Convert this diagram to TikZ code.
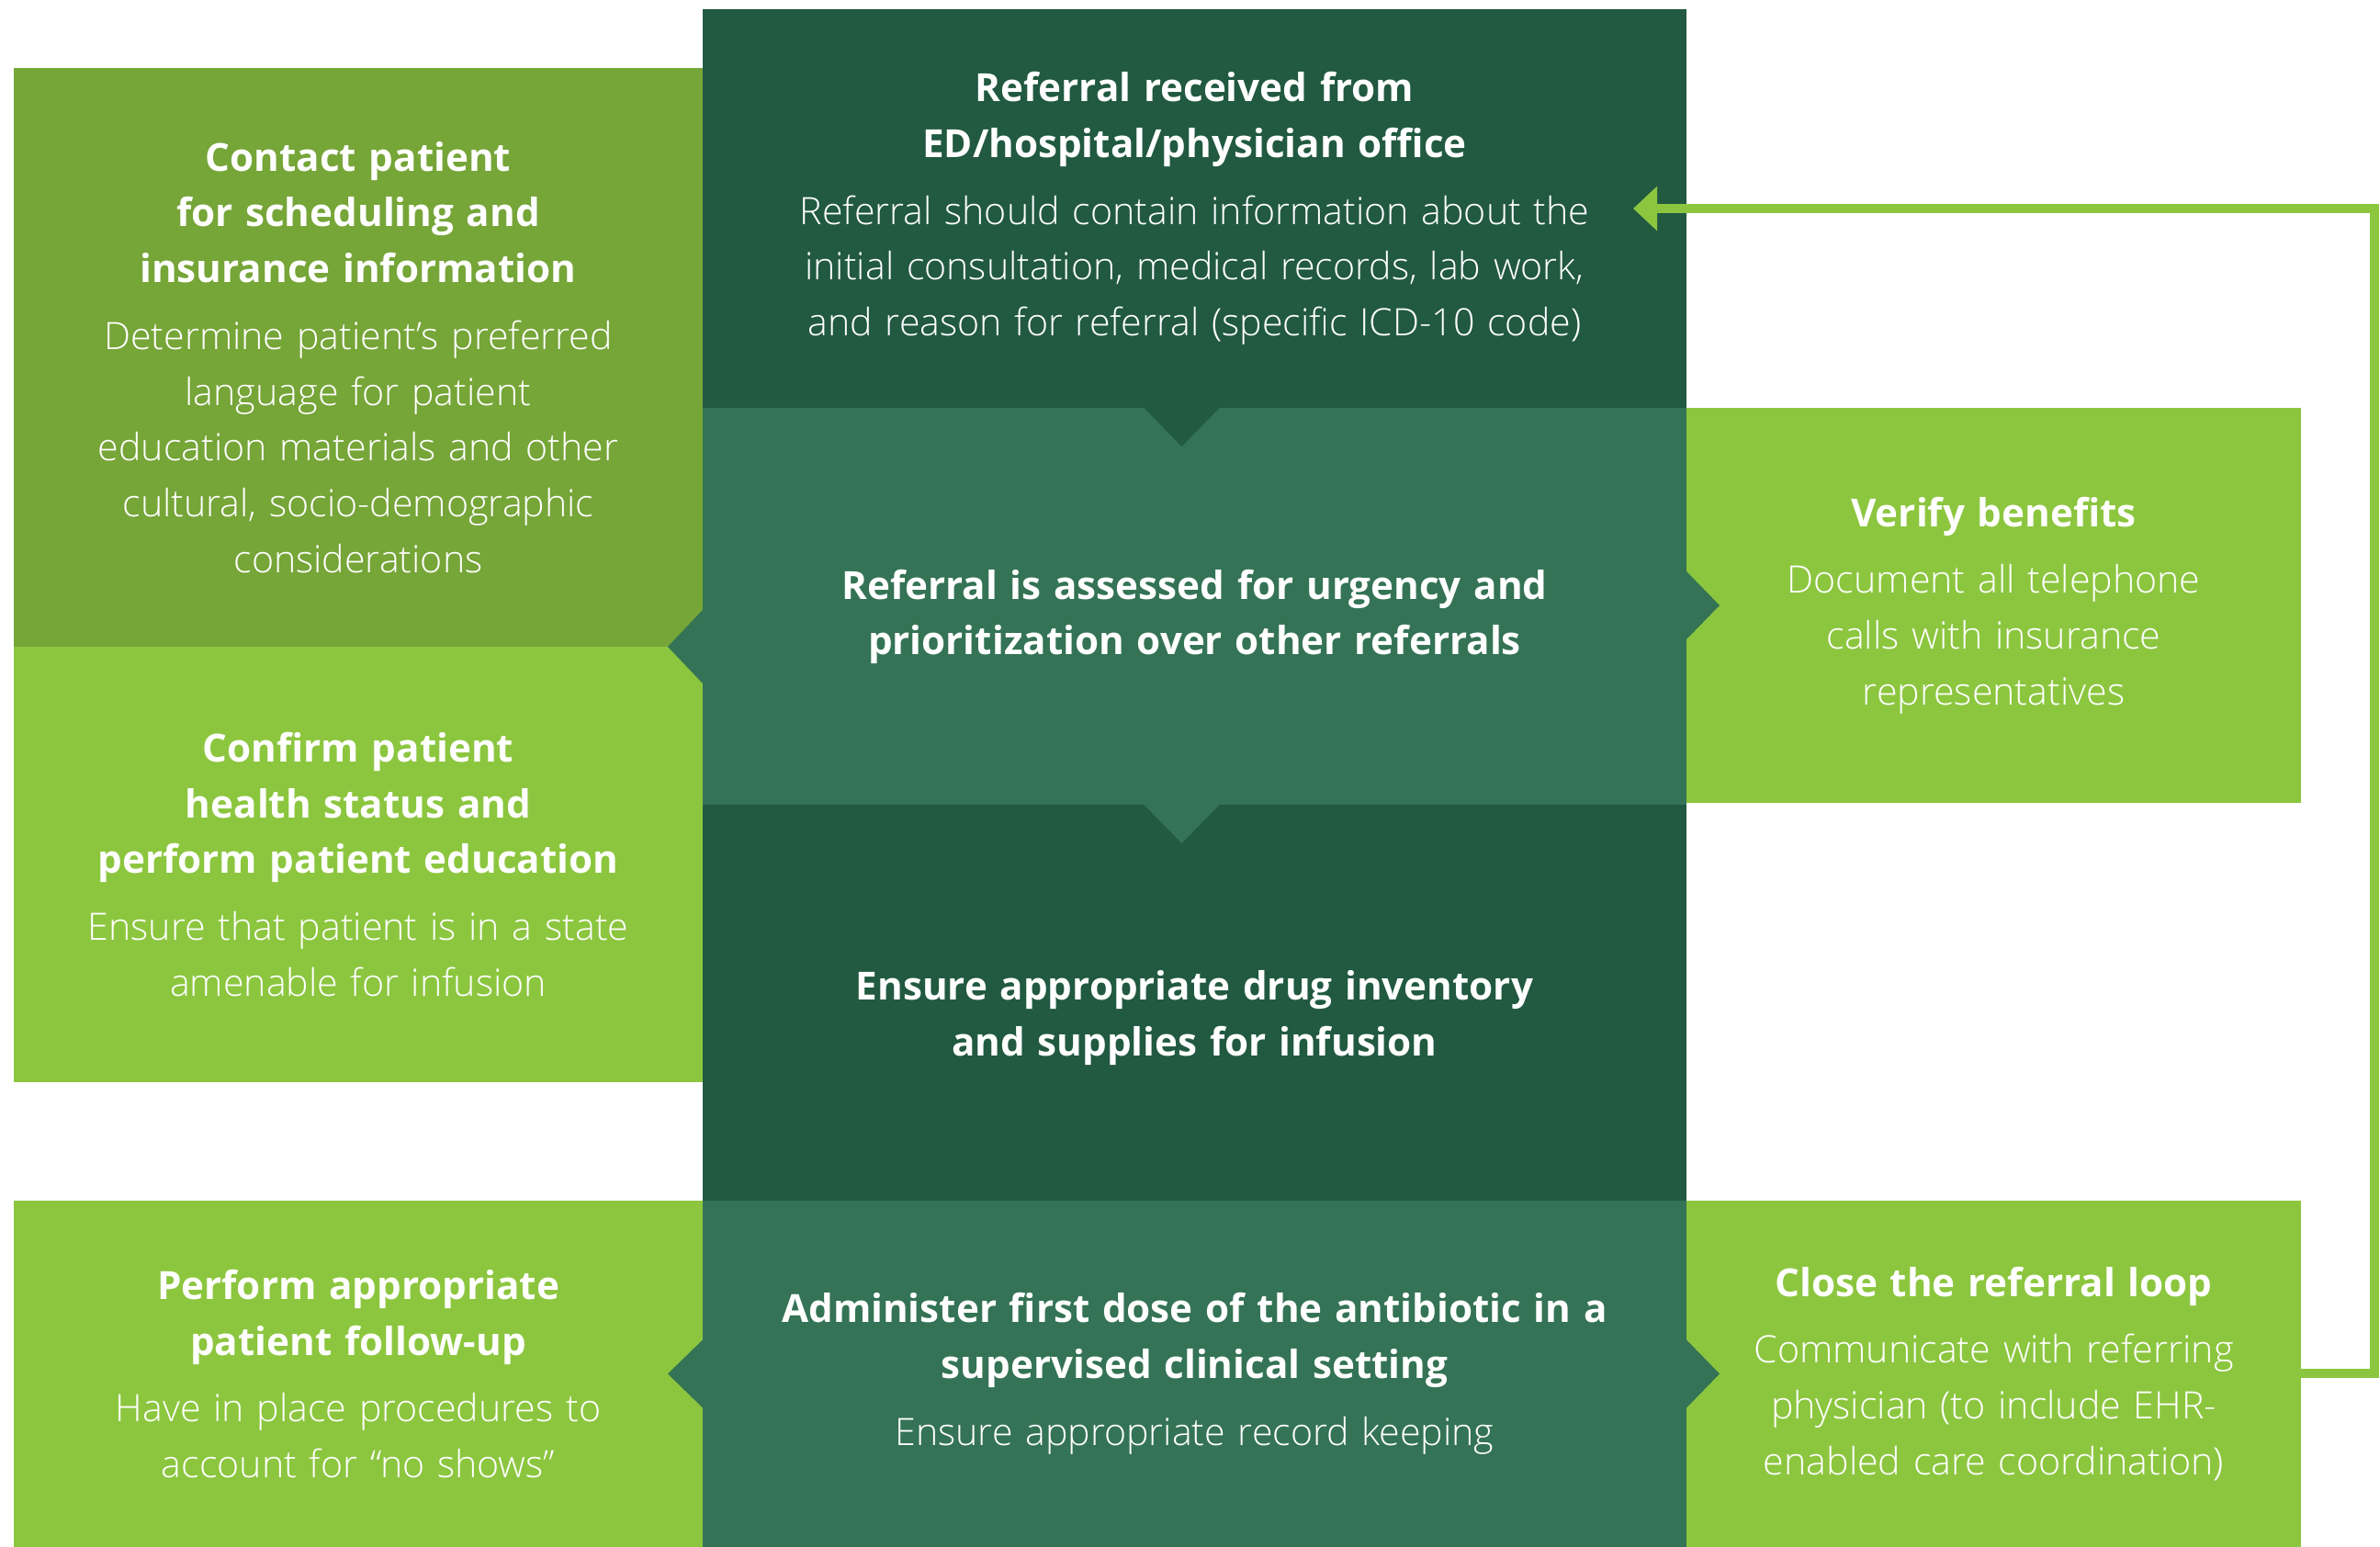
\documentclass[tikz,border=0pt]{standalone}
\usepackage{fontspec}
\setmainfont{Open Sans}
\IfFontExistsTF{Open Sans Light}
  {\newfontfamily\thinfont{Open Sans Light}}
  {\newcommand{\thinfont}{}}
\usepackage{tikz}
\usetikzlibrary{arrows.meta, positioning, calc}

\definecolor{pinegreen}{RGB}{33,89,65}
\definecolor{sagegreen}{RGB}{52,115,85}
\definecolor{olivegreen}{RGB}{118,165,56}
\definecolor{limegreen}{RGB}{140,198,63}

\newcommand{\headfont}{\fontsize{12}{17.3}\selectfont\rmfamily\bfseries}
\newcommand{\bodyfont}{\fontsize{11.7}{17.3}\selectfont\thinfont}

\begin{document}
\begin{tikzpicture}[
    node distance=0pt,
    mainbox/.style={rectangle, inner sep=0pt, outer sep=0pt, text=white,
                    align=center, font=\bodyfont},
    darkbox/.style={mainbox, fill=pinegreen, minimum width=10.71cm, text width=10.4cm},
    midbox/.style={mainbox, fill=sagegreen, minimum width=10.71cm, text width=10.4cm},
    leftbox/.style={mainbox, minimum width=7.5cm, text width=7.3cm},
    rightbox/.style={mainbox, fill=limegreen, minimum width=6.69cm, text width=6.5cm},
    looparrow/.style={-{Triangle[length=2.6mm, width=4.7mm]}, line width=1mm, limegreen}
]
\useasboundingbox (0,0) rectangle (25.91,-16.84);

% Central column
\node[darkbox, minimum height=4.34cm, anchor=north west] (received) at (7.65,-0.10)
    {{\headfont Referral received from\\ED/hospital/physician office}\\[3.4pt]Referral should contain information about the\\initial consultation, medical records, lab work,\\and reason for referral (specific ICD-10 code)};
\node[midbox, minimum height=4.32cm, below=of received] (assessed)
    {{\headfont\rule{0pt}{0.55cm}Referral is assessed for urgency and\\prioritization over other referrals}};
\node[darkbox, minimum height=4.31cm, below=of assessed] (inventory)
    {{\headfont\rule{0pt}{0.65cm}Ensure appropriate drug inventory\\and supplies for infusion}};
\node[midbox, minimum height=3.77cm, below=of inventory] (administer)
    {{\headfont Administer first dose of the antibiotic in a\\supervised clinical setting}\\[3.4pt]Ensure appropriate record keeping};

% Left column
\node[leftbox, fill=olivegreen, minimum height=6.30cm, anchor=north east] (contact) at ([yshift=-0.64cm]received.north west)
    {{\headfont Contact patient\\for scheduling and\\insurance information}\\[3.4pt]Determine patient’s preferred\\language for patient\\education materials and other\\cultural, socio-demographic\\considerations};
\node[leftbox, fill=limegreen, minimum height=4.74cm, below=of contact] (confirm)
    {{\headfont Confirm patient\\health status and\\perform patient education}\\[3.4pt]Ensure that patient is in a state\\amenable for infusion};
\node[leftbox, fill=limegreen, minimum height=3.77cm, anchor=north east] (followup) at (administer.north west)
    {{\headfont Perform appropriate\\patient follow-up}\\[3.4pt]Have in place procedures to\\account for “no shows”};

% Right column
\node[rightbox, minimum height=4.30cm, anchor=north west] (verify) at (assessed.north east)
    {{\headfont Verify benefits}\\[3.4pt]Document all telephone\\calls with insurance\\representatives};
\node[rightbox, minimum height=3.77cm, anchor=north west] (closeloop) at (administer.north east)
    {{\headfont Close the referral loop}\\[3.4pt]Communicate with referring\\physician (to include EHR-\\enabled care coordination)};

% Notches between rows
\fill[pinegreen] ([xshift=-5.5mm]received.south) -- ++(0.41,-0.42) -- ++(0.41,0.42) -- cycle;
\fill[sagegreen] ([xshift=-5.5mm]assessed.south) -- ++(0.41,-0.42) -- ++(0.41,0.42) -- cycle;

% Pointers into side boxes
\fill[sagegreen] ([yshift=4mm]contact.south east) -- ++(-0.38,-0.4) -- ++(0.38,-0.4) -- cycle;
\fill[sagegreen] ([yshift=3.7mm]verify.west) -- ++(0.36,-0.37) -- ++(-0.36,-0.37) -- cycle;
\fill[sagegreen] ([yshift=3.7mm]followup.east) -- ++(-0.38,-0.37) -- ++(0.38,-0.37) -- cycle;
\fill[sagegreen] ([yshift=3.7mm]closeloop.west) -- ++(0.36,-0.37) -- ++(-0.36,-0.37) -- cycle;

% Loop back to referral
\draw[looparrow] (closeloop.east) -- ++(0.8,0) |- ([xshift=-5.8mm]received.east);

\end{tikzpicture}
\end{document}
